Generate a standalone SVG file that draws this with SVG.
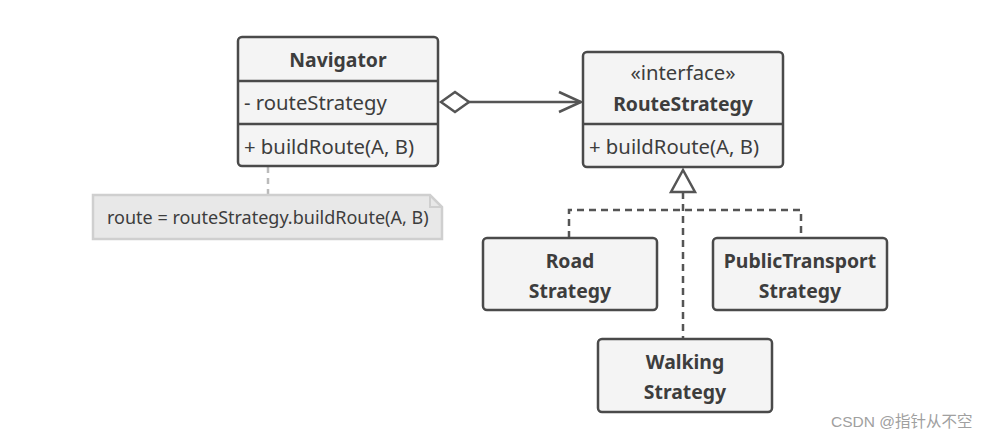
<svg xmlns="http://www.w3.org/2000/svg" width="987" height="439" viewBox="0 0 987 439">
<style>
.box{fill:#f4f4f4;stroke:#4a4a4a;stroke-width:2.5}
.div{stroke:#4a4a4a;stroke-width:2.5}
.t{font-family:"Noto Sans","Open Sans",sans-serif;font-size:20.3px;fill:#3d3d3d}
.b{font-weight:bold;font-size:19.4px}
.c{text-anchor:middle}
.dash{fill:none;stroke:#555;stroke-width:2.5;stroke-dasharray:7,5}
.conn{fill:none;stroke:#555;stroke-width:2.5}
</style>
<rect width="987" height="439" fill="#ffffff"/>
<g id="connectors">
  <line class="dash" x1="268" y1="167" x2="268" y2="195" style="stroke:#bbb;stroke-dasharray:6,5"/>
  <line class="conn" x1="468" y1="102" x2="581" y2="102"/>
  <polygon points="441,102 455,92 469,102 455,112" fill="#fff" stroke="#555" stroke-width="2.5"/>
  <polyline class="conn" points="559,92 581,102 559,112"/>
  <polyline class="dash" points="569,238 569,210 801,210 801,238"/>
  <line class="dash" x1="683" y1="192" x2="683" y2="339"/>
  <polygon points="683,170 671,192 695,192" fill="#fff" stroke="#555" stroke-width="2.5"/>
</g>
<g id="navigator">
  <rect class="box" x="238" y="37" width="200" height="129" rx="4"/>
  <line class="div" x1="238" y1="81" x2="438" y2="81"/>
  <line class="div" x1="238" y1="124" x2="438" y2="124"/>
  <text class="t b c" x="338" y="67">Navigator</text>
  <text class="t" x="244" y="110">- routeStrategy</text>
  <text class="t" x="244" y="154">+ buildRoute(A, B)</text>
</g>
<g id="note">
  <path d="M93,195 H430 L442,207 V239 H93 Z" fill="#e8e8e8" stroke="#cfcfcf" stroke-width="2.5"/>
  <path d="M430,195 V207 H442" fill="none" stroke="#cfcfcf" stroke-width="2"/>
  <text class="t" x="107" y="224" style="font-size:18px">route = routeStrategy.buildRoute(A, B)</text>
</g>
<g id="routestrategy">
  <rect class="box" x="583" y="52" width="200" height="115" rx="4"/>
  <line class="div" x1="583" y1="124" x2="783" y2="124"/>
  <text class="t c" x="683" y="80">«interface»</text>
  <text class="t b c" x="683" y="111">RouteStrategy</text>
  <text class="t" x="589" y="154">+ buildRoute(A, B)</text>
</g>
<g id="road">
  <rect class="box" x="483" y="238" width="174" height="72" rx="4"/>
  <text class="t b c" x="570" y="268">Road</text>
  <text class="t b c" x="570" y="298">Strategy</text>
</g>
<g id="publictransport">
  <rect class="box" x="713" y="238" width="174" height="72" rx="4"/>
  <text class="t b c" x="800" y="268">PublicTransport</text>
  <text class="t b c" x="800" y="298">Strategy</text>
</g>
<g id="walking">
  <rect class="box" x="598" y="339" width="174" height="73" rx="4"/>
  <text class="t b c" x="685" y="369">Walking</text>
  <text class="t b c" x="685" y="399">Strategy</text>
</g>
<text x="831" y="427" style="font-family:'Liberation Sans','Noto Sans CJK SC',sans-serif;font-size:15.5px;fill:#a0a0a0">CSDN @指针从不空</text>
</svg>
